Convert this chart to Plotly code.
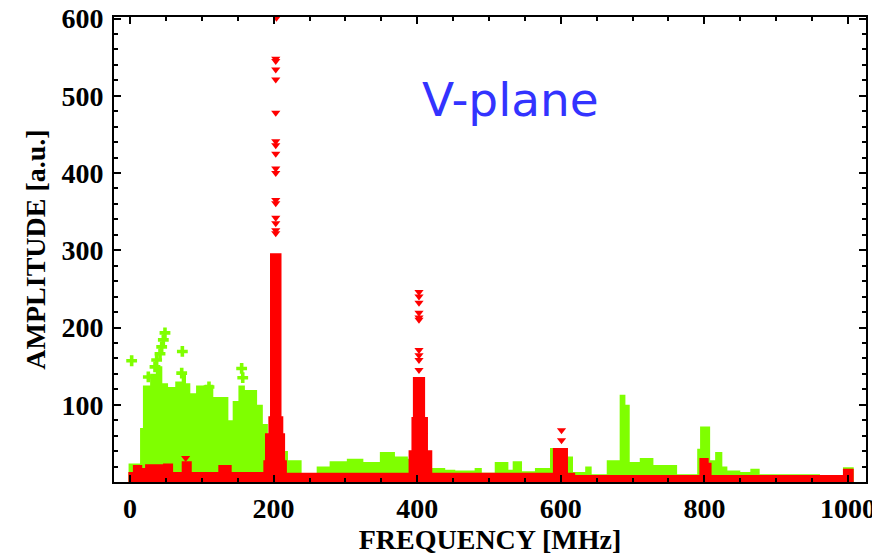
import plotly.graph_objects as go

# ---- data (frequency in MHz, amplitude in a.u.) ----
# Green spectrum: upper envelope (step), start frequency of each step
green_freq = [-2, 14, 18, 28, 36, 45, 53, 63, 72, 78, 84, 92, 104, 116, 137, 143, 151, 160,
              177, 185, 192, 216, 220, 239, 260, 278, 302, 325, 348, 369, 387, 418, 439,
              453, 480, 490, 508, 527, 533, 546, 564, 585, 610, 617, 634, 643, 664, 682,
              690, 696, 710, 729, 762, 790, 794, 808, 815, 825, 832, 850, 864, 877, 961,
              993, 1008]
green_amp = [24, 70, 125, 140, 150, 128, 123, 130, 140, 128, 115, 125, 126, 110, 80, 105, 125, 119,
             100, 75, 30, 40, 28, 10, 20, 27, 30, 26, 39, 33, 30, 18, 16,
             15, 18, 12, 26, 16, 27, 14, 18, 44, 33, 13, 20, 10, 28, 113,
             100, 26, 31, 22, 10, 43, 72, 28, 39, 20, 15, 13, 17, 10, 8,
             19, 0]

# Green isolated points above the envelope
green_pts_freq = [2.3, 25.5, 34.8, 37.1, 41.8, 44.1, 46.4, 48.7, 72.9, 72.0, 110, 155.5, 157]
green_pts_amp = [157, 136, 149, 158, 166, 175, 184, 193, 169, 141, 123, 147, 135]

# Red spectrum: upper envelope (step)
red_freq = [-2.3, 4, 17, 21, 46, 60, 72, 86, 123, 141.6, 185.7, 188, 192.7, 195, 211, 213.5,
            216, 218.5, 388, 392, 394, 411, 415, 421, 589, 610, 620, 793, 806, 810, 993, 1008]
red_amp = [13, 22, 18, 23, 24, 13, 27, 13, 22, 13, 28, 63, 85, 296, 85, 63,
           28, 12, 41, 84, 136, 84, 41, 12, 44, 12, 9, 31, 25, 9, 17, 0]

# Red isolated points (harmonic peaks)
red_pts_freq = [204, 203, 203, 203, 203, 203, 203, 203, 203, 203, 203, 203, 203, 203, 203, 203, 203,
                402.5, 402.5, 402.5, 402.5, 402.5, 402.5, 402.5, 402.5, 402.5, 402.5,
                601, 601, 77.5]
red_pts_amp = [601, 548, 545, 534, 521, 478, 441, 436, 425, 406, 400, 365, 361, 342, 335, 326, 322,
               246, 240, 232, 219, 213, 210, 171, 164, 158, 145,
               67, 54, 31]

x_ticks = [0, 200, 400, 600, 800, 1000]
y_ticks = [100, 200, 300, 400, 500, 600]

GREEN = "#7FFF00"
RED = "#FF0000"

fig = go.Figure()
fig.add_trace(go.Scatter(x=green_freq, y=green_amp, mode="lines", line=dict(shape="hv", width=0, color=GREEN),
                         fill="tozeroy", fillcolor=GREEN, showlegend=False, hoverinfo="skip"))
fig.add_trace(go.Scatter(x=green_pts_freq, y=green_pts_amp, mode="markers",
                         marker=dict(symbol="cross", size=9, color=GREEN, line=dict(width=0)),
                         showlegend=False))
fig.add_trace(go.Scatter(x=red_freq, y=red_amp, mode="lines", line=dict(shape="hv", width=0, color=RED),
                         fill="tozeroy", fillcolor=RED, showlegend=False, hoverinfo="skip"))
fig.add_trace(go.Scatter(x=red_pts_freq, y=red_pts_amp, mode="markers",
                         marker=dict(symbol="triangle-down", size=8, color=RED, line=dict(width=0)),
                         showlegend=False, cliponaxis=False))

font_ax = dict(family="Liberation Serif", size=28, color="black", weight=700)

# the page body adds an 8px offset, so the figure is sized to fit the 880x555 window
fig.update_layout(
    width=872, height=547,
    margin=dict(l=106, r=14, t=9, b=73),
    paper_bgcolor="white", plot_bgcolor="white",
    xaxis=dict(range=[-22.3, 1025.1], showline=True, mirror="allticks", linecolor="black", linewidth=2,
               ticks="inside", ticklen=7, tickwidth=2, tickcolor="black", tickvals=x_ticks,
               minor=dict(ticks="inside", ticklen=4, tickwidth=1.5, dtick=50, tick0=0, tickcolor="black"),
               showgrid=False, zeroline=False, tickfont=font_ax, automargin=False,
               ticklabeloverflow="allow",
               title=dict(text="FREQUENCY [MHz]", font=font_ax, standoff=2)),
    yaxis=dict(range=[0, 602], showline=True, mirror="allticks", linecolor="black", linewidth=2,
               ticks="inside", ticklen=7, tickwidth=2, tickcolor="black", tickvals=y_ticks,
               minor=dict(ticks="inside", ticklen=4, tickwidth=1.5, dtick=20, tick0=0, tickcolor="black"),
               showgrid=False, zeroline=False, tickfont=font_ax, automargin=False, ticklabelstandoff=3,
               ticklabeloverflow="allow",
               title=dict(text="AMPLITUDE [a.u.]", font=font_ax, standoff=8)),
    annotations=[dict(x=530, y=495, xref="x", yref="y", text="V-plane", showarrow=False,
                      font=dict(family="DejaVu Sans", size=47, color="#3333FF"),
                      xanchor="center", yanchor="middle")],
)

fig.write_html("out.html")
